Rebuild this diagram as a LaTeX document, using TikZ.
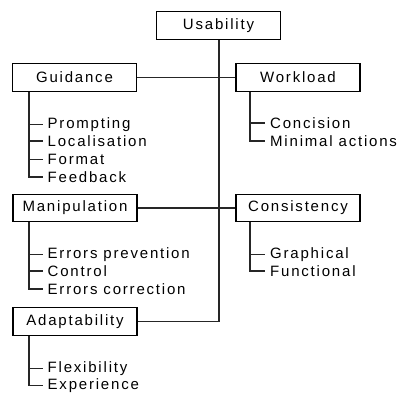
\documentclass[tikz,border=0pt]{standalone}
\usepackage{fontspec}
\setmainfont{Liberation Sans}[LetterSpace=12]
\begin{document}
\begin{tikzpicture}[x=1pt,y=-1pt,
  box/.style={draw=black,line width=1.3pt,minimum width=124pt,minimum height=27.5pt,inner sep=0pt,font=\fontsize{15}{17}\selectfont},
  item/.style={anchor=base west,inner sep=0pt,font=\fontsize{15}{17}\selectfont},
  ln/.style={draw=black!85,line width=1.3pt}]
\useasboundingbox (0,0) rectangle (404,392);
\fill[white] (0,0) rectangle (404,392);
% boxes
\node[box] (us) at (218.5,25.5) {Usability};
\node[box] (gu) at (74.5,77.5) {Guidance};
\node[box] (wo) at (298,77.5) {Workload};
\node[box] (ma) at (75,208) {Manipulation};
\node[box] (co) at (298,208) {Consistency};
\node[box] (ad) at (75,321.5) {Adaptability};
% main connectors
\coordinate (c1) at (219,321.5);
\draw[ln] (us.south -| c1) -- (c1) -- (ad.east);
\draw[ln] (gu.east) -- (wo.west);
\draw[ln] (ma.east) -- (co.west);
% items
\node[item] (i1) at (47.5,128.5) {Prompting};
\node[item] (i2) at (47.5,146.5) {Localisation};
\node[item] (i3) at (47.5,164.5) {Format};
\node[item] (i4) at (47.5,182.5) {Feedback};
\node[item] (w1) at (270,128.5) {Concision};
\node[item] (w2) at (270,146.5) {Minimal actions};
\node[item] (m1) at (47.5,258.5) {Errors prevention};
\node[item] (m2) at (47.5,276.5) {Control};
\node[item] (m3) at (47.5,294.5) {Errors correction};
\node[item] (c1n) at (270,258.5) {Graphical};
\node[item] (c2n) at (270,276.5) {Functional};
\node[item] (a1) at (47.5,372.5) {Flexibility};
\node[item] (a2) at (47.5,389.5) {Experience};
% tree lines
\coordinate (gx) at (29,0);
\coordinate (wx) at (250,0);
\draw[ln] (gu.south -| gx) -- (gx |- i4.west) -- ([xshift=-5pt]i4.west);
\foreach \n in {i1,i2,i3} \draw[ln] (gx |- \n.west) -- ([xshift=-5pt]\n.west);
\draw[ln] (wo.south -| wx) -- (wx |- w2.west) -- ([xshift=-5pt]w2.west);
\draw[ln] (wx |- w1.west) -- ([xshift=-5pt]w1.west);
\draw[ln] (ma.south -| gx) -- (gx |- m3.west) -- ([xshift=-5pt]m3.west);
\foreach \n in {m1,m2} \draw[ln] (gx |- \n.west) -- ([xshift=-5pt]\n.west);
\draw[ln] (co.south -| wx) -- (wx |- c2n.west) -- ([xshift=-5pt]c2n.west);
\draw[ln] (wx |- c1n.west) -- ([xshift=-5pt]c1n.west);
\draw[ln] (ad.south -| gx) -- (gx |- a2.west) -- ([xshift=-5pt]a2.west);
\draw[ln] (gx |- a1.west) -- ([xshift=-5pt]a1.west);
\end{tikzpicture}
\end{document}
